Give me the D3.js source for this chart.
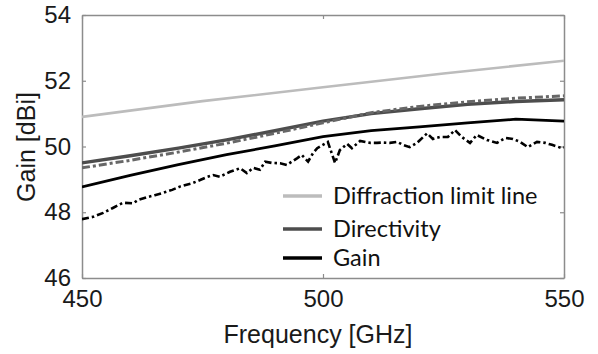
<!DOCTYPE html>
<html>
<head>
<meta charset="utf-8">
<script src="https://cdn.jsdelivr.net/npm/d3@7"></script>
<style>
  body { margin: 0; background: #fff; }
  svg { display: block; }
</style>
</head>
<body>
<div id="chart"></div>
<script>
// data
const diffFreq = [450, 475, 500, 525, 550];
const diffValues = [50.90, 51.38, 51.80, 52.22, 52.61];

const simFreq = [450, 460, 470, 480, 490, 500, 510, 520, 530, 540, 550];
const directivityValues = [49.50, 49.72, 49.95, 50.20, 50.48, 50.77, 51.00, 51.15, 51.28, 51.37, 51.42];
const gainValues = [48.77, 49.12, 49.45, 49.75, 50.02, 50.30, 50.48, 50.60, 50.72, 50.83, 50.77];

const measDirFreq = [450, 460, 470, 480, 490, 500, 510, 520, 530, 540, 550];
const measDirValues = [49.35, 49.58, 49.83, 50.10, 50.40, 50.72, 51.03, 51.22, 51.36, 51.47, 51.54];

const measGainFreq = [450, 452.3, 454.4, 456.4, 458.5, 460.6, 461.6, 463.5, 465.1, 466.8, 468.7, 470.3,
  473.0, 474.5, 475.9, 477.2, 478.6, 480.7, 482.8, 484.2, 485.5, 486.9, 488.0, 489.4, 491.1, 492.5,
  494.6, 495.6, 496.9, 497.9, 498.8, 501.0, 502.5, 503.5, 505.0, 506.0, 507.7, 509.8, 511.2, 512.4,
  513.9, 515.4, 516.6, 518.0, 519.5, 521.6, 522.8, 524.3, 525.9, 527.4, 528.8, 530.5, 531.9, 534.0,
  536.1, 537.8, 539.4, 540.9, 542.5, 544.4, 546.1, 547.5, 549.6, 550];
const measGainValues = [47.79, 47.86, 47.98, 48.13, 48.29, 48.27, 48.37, 48.46, 48.52, 48.59, 48.68, 48.78,
  48.89, 48.98, 49.07, 49.13, 49.08, 49.23, 49.34, 49.19, 49.35, 49.29, 49.54, 49.50, 49.49, 49.44,
  49.64, 49.74, 49.54, 49.79, 49.95, 50.14, 49.50, 49.89, 50.08, 49.95, 50.17, 50.11, 50.11, 50.12,
  50.11, 50.14, 50.05, 49.98, 50.11, 50.40, 50.23, 50.29, 50.29, 50.50, 50.29, 50.11, 50.35, 50.20,
  50.11, 50.26, 50.23, 50.14, 49.98, 50.14, 50.11, 50.05, 49.95, 49.97];

const xTicks = [450, 500, 550];
const yTicks = [46, 48, 50, 52, 54];
const legendLabels = ["Diffraction limit line", "Directivity", "Gain"];

const W = 598, H = 354;
const margin = { top: 15, right: 34, bottom: 76, left: 82 };
const width = W - margin.left - margin.right,
  height = H - margin.top - margin.bottom;

const svg = d3.select("#chart").append("svg")
  .attr("width", W).attr("height", H);
const g = svg.append("g")
  .attr("transform", `translate(${margin.left},${margin.top})`);

const x = d3.scaleLinear().domain([450, 550]).range([0, width]);
const y = d3.scaleLinear().domain([46, 54]).range([height, 0]);

const axisColor = "#8c8c8c";
const tickFont = "Arial, 'Liberation Sans', sans-serif";

// axes, ticks inside the box
const xAxis = g.append("g").attr("transform", `translate(0,${height})`)
  .call(d3.axisBottom(x).tickValues(xTicks).tickSizeInner(-4).tickSizeOuter(0).tickPadding(12));
const xTop = g.append("g")
  .call(d3.axisTop(x).tickValues(xTicks).tickSizeInner(-4).tickSizeOuter(0).tickFormat(""));
const yAxis = g.append("g")
  .call(d3.axisLeft(y).tickValues(yTicks).tickSizeInner(-4).tickSizeOuter(0).tickPadding(11));
const yRight = g.append("g").attr("transform", `translate(${width},0)`)
  .call(d3.axisRight(y).tickValues(yTicks).tickSizeInner(-4).tickSizeOuter(0).tickFormat(""));

[xAxis, xTop, yAxis, yRight].forEach(a => {
  a.selectAll("path.domain").attr("stroke", axisColor).attr("stroke-width", 1.5);
  a.selectAll(".tick line").attr("stroke", axisColor).attr("stroke-width", 1.2);
  a.selectAll("text").attr("fill", "#1a1a1a").style("font-family", tickFont).style("font-size", "24px");
});

// clip so the lines stay in the box
g.append("clipPath").attr("id", "clip")
  .append("rect").attr("width", width).attr("height", height);
const plot = g.append("g").attr("clip-path", "url(#clip)");

const line = d3.line().x(d => x(d[0])).y(d => y(d[1]));

function drawSeries(freq, vals, color, w, dash) {
  plot.append("path")
    .datum(freq.map((f, i) => [f, vals[i]]))
    .attr("fill", "none")
    .attr("stroke", color)
    .attr("stroke-width", w)
    .attr("stroke-dasharray", dash || null)
    .attr("d", line);
}

drawSeries(diffFreq, diffValues, "#bcbcbc", 2.6);
drawSeries(simFreq, directivityValues, "#4d4d4d", 3.4);
drawSeries(measDirFreq, measDirValues, "#676767", 3, "8,3,3,3");
drawSeries(simFreq, gainValues, "#000", 2.8);
drawSeries(measGainFreq, measGainValues, "#000", 2.6, "7,3,2.5,3");

// legend
const legendColors = ["#bcbcbc", "#4d4d4d", "#000"];
const legendY = [196, 229, 258];
const legend = svg.append("g");
legendLabels.forEach((label, i) => {
  legend.append("line")
    .attr("x1", 283).attr("x2", 322)
    .attr("y1", legendY[i]).attr("y2", legendY[i])
    .attr("stroke", legendColors[i]).attr("stroke-width", 3.4);
  legend.append("text")
    .attr("x", 333).attr("y", legendY[i])
    .attr("dy", "0.35em")
    .style("font-family", "Lato, 'Open Sans', sans-serif")
    .style("font-size", "23.5px")
    .attr("fill", "#111")
    .text(label);
});

// axis titles
svg.append("text")
  .attr("x", 318).attr("y", 343)
  .attr("text-anchor", "middle")
  .style("font-family", tickFont).style("font-size", "25px")
  .attr("fill", "#1a1a1a")
  .text("Frequency [GHz]");

svg.append("text")
  .attr("transform", "translate(35,147) rotate(-90)")
  .attr("text-anchor", "middle")
  .style("font-family", tickFont).style("font-size", "25px")
  .attr("fill", "#1a1a1a")
  .text("Gain [dBi]");
</script>
</body>
</html>
